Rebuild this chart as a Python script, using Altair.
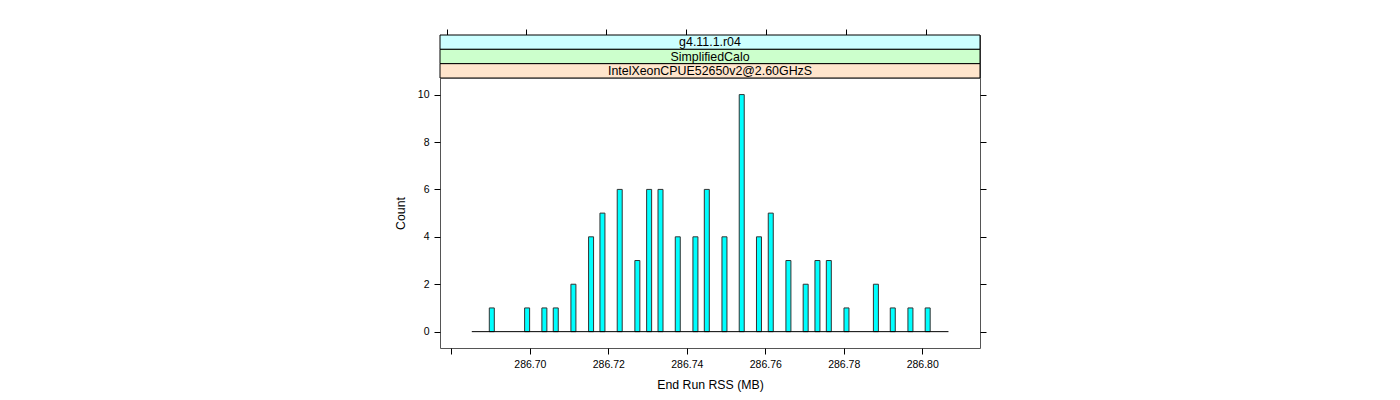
import altair as alt
import pandas as pd

# ---- data ----
rss_mb = [286.6903, 286.6993, 286.7037, 286.7066, 286.7111, 286.7156, 286.7185,
          286.7229, 286.7274, 286.7304, 286.7333, 286.7377, 286.7422, 286.7451,
          286.7496, 286.7540, 286.7584, 286.7614, 286.7659, 286.7703, 286.7733,
          286.7762, 286.7807, 286.7882, 286.7925, 286.7970, 286.8014]
counts = [1, 1, 1, 1, 2, 4, 5, 6, 3, 6, 6, 4, 4, 6, 4, 10, 4, 5, 3, 2, 3, 3, 1, 2, 1, 1, 1]
baseline_range = [286.6852, 286.8067]
x_ticks = [286.68, 286.70, 286.72, 286.74, 286.76, 286.78, 286.80]
y_ticks = [0, 2, 4, 6, 8, 10]
strip_labels = ["g4.11.1.r04", "SimplifiedCalo", "IntelXeonCPUE52650v2@2.60GHzS"]
strip_colors = ["#CCFFFF", "#CCFFCC", "#FFE5CC"]
x_domain = [286.67837, 286.81346]
y_domain = [-0.69, 10.70]

FONT = "Liberation Sans"
W, H, SH = 540, 270, 43

xscale = alt.Scale(domain=x_domain, nice=False, zero=False)
yscale = alt.Scale(domain=y_domain, nice=False, zero=False)

# ---- strips ----
strip_df = pd.DataFrame({"label": strip_labels})
strip_y = alt.Y("label:N", sort=strip_labels,
                scale=alt.Scale(paddingInner=0, paddingOuter=0), axis=None)
strip_rect = alt.Chart(strip_df).mark_rect(stroke="#000000", strokeWidth=1).encode(
    x=alt.value(0), x2=alt.value(W), y=strip_y,
    fill=alt.Fill("label:N", scale=alt.Scale(domain=strip_labels, range=strip_colors), legend=None),
)
strip_text = alt.Chart(strip_df).mark_text(font=FONT, fontSize=12.4, color="black").encode(
    x=alt.value(W / 2), y=strip_y, text="label:N"
)
top_axis = alt.Chart(pd.DataFrame({"v": x_ticks})).mark_point(opacity=0).encode(
    x=alt.X("v:Q", scale=xscale,
            axis=alt.Axis(orient="top", values=x_ticks, labels=False, tickSize=6,
                          domain=False, grid=False, title=None)),
    y=alt.value(0),
)
strip = alt.layer(strip_rect, strip_text, top_axis).properties(width=W, height=SH)

# ---- main panel ----
df = pd.DataFrame({"rss": rss_mb, "count": counts})
base_df = pd.DataFrame({"x0": [baseline_range[0]], "x1": [baseline_range[1]], "y0": [0]})

x_axis = alt.Axis(orient="bottom", values=x_ticks, format=".2f",
                  labelExpr="datum.value < 286.69 ? '' : datum.label",
                  tickSize=6, labelPadding=5, title="End Run RSS (MB)",
                  titlePadding=9, domain=False, grid=False)

bars = alt.Chart(df).mark_bar(size=5, fill="#00FFFF", stroke="#333333", strokeWidth=1,
                              orient="vertical").encode(
    x=alt.X("rss:Q", scale=xscale, axis=x_axis),
    y=alt.Y("count:Q", scale=yscale,
            axis=alt.Axis(orient="left", values=y_ticks, tickSize=6, labelPadding=5,
                          title="Count", titlePadding=10, domain=False, grid=False)),
    y2=alt.datum(0),
)
baseline = alt.Chart(base_df).mark_rule(color="black", strokeWidth=1).encode(
    x=alt.X("x0:Q", scale=xscale, axis=x_axis), x2="x1:Q",
    y=alt.Y("y0:Q", scale=yscale, axis=None),
)
right_axis = alt.Chart(pd.DataFrame({"t": y_ticks})).mark_point(opacity=0).encode(
    x=alt.value(0),
    y=alt.Y("t:Q", scale=yscale,
            axis=alt.Axis(orient="right", values=y_ticks, labels=False, tickSize=6,
                          domain=False, grid=False, title=None)),
)
main = alt.layer(bars, baseline, right_axis).resolve_axis(y="independent").properties(
    width=W, height=H)

chart = alt.vconcat(strip, main, spacing=0, bounds="flush").properties(
    padding={"left": 385, "top": 20, "right": 10, "bottom": 5}
).configure_view(stroke="#555555", strokeWidth=1).configure_axis(
    labelFont=FONT, titleFont=FONT, labelFontSize=10.5, titleFontSize=12.3,
    labelColor="black", titleColor="black", tickColor="#000000",
    titleFontWeight="normal",
).configure_axisLeft(labelAngle=0)

chart.save("out.html", embed_options={"renderer": "svg", "actions": False})
